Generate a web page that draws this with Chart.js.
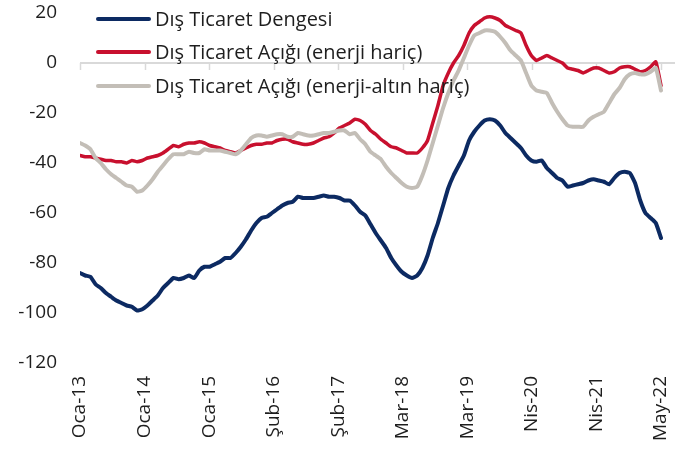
<!DOCTYPE html>
<html>
<head>
<meta charset="utf-8">
<script src="https://cdn.jsdelivr.net/npm/chart.js@4"></script>
<style>
  html, body { margin: 0; padding: 0; background: #fff; }
  #wrap { width: 688px; height: 454px; }
</style>
</head>
<body>
<div id="wrap"><canvas id="LineChart"></canvas></div>
<script>
// monthly, Oca-13 .. May-22
var monthNames = ['Oca', 'Şub', 'Mar', 'Nis', 'May', 'Haz', 'Tem', 'Ağu', 'Eyl', 'Eki', 'Kas', 'Ara'];
var tickLabels = ['Oca-13', 'Oca-14', 'Oca-15', 'Şub-16', 'Şub-17', 'Mar-18', 'Mar-19', 'Nis-20', 'Nis-21', 'May-22'];

var disTicaretDengesi = [
  -84, -85, -85.5, -88.5, -90, -92, -93.5, -95, -96, -97, -97.5, -99,
  -98.5, -97, -95, -93, -90, -88, -86, -86.5, -86, -85, -86, -83,
  -81.5, -81.5, -80.5, -79.5, -78, -78, -76, -73.5, -70.5, -67, -64, -62,
  -61.5, -60, -58.5, -57, -56, -55.5, -53.5, -54, -54, -54, -53.5, -53,
  -53.5, -53.5, -54, -55, -55, -57, -59.5, -61, -64.5, -68, -71, -74,
  -78, -81, -83.5, -85, -86, -85, -82, -77, -70, -64, -57, -50,
  -45, -41, -37, -31, -27.5, -25, -23, -22.5, -23, -25, -28, -30,
  -32, -34, -37, -39, -39.5, -39, -42, -44, -46, -47, -49.5, -49,
  -48.5, -48, -47, -46.5, -47, -47.5, -48.5, -46, -44, -43.5, -44, -48,
  -55, -60, -62, -64, -70
];
var enerjiHaric = [
  -37, -37.5, -37.5, -38, -38.5, -39, -39, -39.5, -39.5, -40, -39, -39.5,
  -39, -38, -37.5, -37, -36, -34.5, -33, -33.5, -32.5, -32, -32, -31.5,
  -32, -33, -33.5, -34, -35, -35.5, -36, -35, -34, -33, -32.5, -32.5,
  -32, -32, -31, -30.5, -30.5, -31.5, -32, -32.5, -32.5, -32, -31, -30,
  -29.5, -28, -26, -25, -24, -22.5, -23, -24.5, -27, -28.5, -30.5, -32,
  -33.5, -34, -35, -36, -36, -36, -34, -31, -24, -17, -9, -4,
  0, 3, 7, 12, 15, 16.5, 18, 18.5, 18, 17, 15, 14,
  13, 12, 7, 3, 1, 2, 3, 2, 1, 0, -2, -2.5,
  -3, -4, -3, -2, -2, -3, -4, -3.5, -2, -1.5, -1.5, -2.5,
  -3.5, -3, -1.5, 0.5, -9
];
var enerjiAltinHaric = [
  -32, -33, -34.5, -38, -40, -42.5, -44.5, -46, -47.5, -49, -49.5, -51.5,
  -51, -49, -46.5, -43.5, -41, -38.5, -36.5, -36.5, -36.5, -35.5, -36, -36,
  -34.5, -35, -35, -35, -35.5, -36, -36.5, -35, -32.5, -30, -29, -29,
  -29.5, -29, -28.5, -28.5, -29.5, -29.5, -28, -28.5, -29, -29, -28.5, -28,
  -28, -27.5, -27, -27, -28.5, -28, -30.5, -32.5, -35.5, -37, -38.5, -41.5,
  -44, -46, -48, -49.5, -50, -49.5, -45, -39, -32, -25, -18, -12,
  -7, -3, 2, 7, 11, 12, 13, 13, 12.5, 10.5, 8, 5,
  3, 1, -4, -9, -11, -11.5, -12, -16, -19.5, -22.5, -25, -25.5,
  -25.5, -25.5, -23, -21.5, -20.5, -19.5, -16, -12.5, -10, -6.5, -4.5, -4,
  -4.5, -4.5, -3.5, -2, -11
];

var months = disTicaretDengesi.map(function (v, i) {
  return monthNames[i % 12] + '-' + (13 + Math.floor(i / 12));
});
var lastIndex = months.length - 1;
var xMax = lastIndex + 2.7;

function toPoints(arr) {
  return arr.map(function (v, i) { return { x: i, y: v }; });
}

var fontFamily = '"Open Sans", "Noto Sans", sans-serif';
var axisFont = { family: fontFamily, size: 19 };
var legendSize = 20;

// zero line with tick marks (the category axis crosses at 0)
var zeroAxis = {
  id: 'zeroAxis',
  beforeDatasetsDraw: function (chart) {
    var c = chart.ctx, xs = chart.scales.x, ys = chart.scales.y;
    var y0 = Math.round(ys.getPixelForValue(0));
    c.save();
    c.strokeStyle = '#d9d9d9';
    c.lineWidth = 2;
    c.beginPath();
    c.moveTo(chart.chartArea.left, y0);
    c.lineTo(chart.chartArea.right, y0);
    c.stroke();
    c.lineWidth = 1.5;
    xs.ticks.forEach(function (t) {
      var px = Math.round(xs.getPixelForValue(t.value)) + 0.5;
      c.beginPath();
      c.moveTo(px, y0);
      c.lineTo(px, y0 + 7);
      c.stroke();
    });
    c.restore();
  }
};

var inlineLegend = {
  id: 'inlineLegend',
  afterDatasetsDraw: function (chart) {
    var c = chart.ctx;
    var rows = [19, 52, 86];
    c.save();
    c.font = legendSize + 'px ' + fontFamily;
    c.textBaseline = 'middle';
    c.fillStyle = '#1e1e1e';
    chart.data.datasets.forEach(function (ds, i) {
      c.strokeStyle = ds.borderColor;
      c.lineWidth = 4;
      c.lineCap = 'round';
      c.beginPath();
      c.moveTo(98, rows[i]);
      c.lineTo(149, rows[i]);
      c.stroke();
      c.fillText(ds.label, 155, rows[i] + 1);
    });
    c.restore();
  }
};

var ctx = document.getElementById('LineChart').getContext('2d');
var myChart = new Chart(ctx, {
  type: 'line',
  data: {
    datasets: [{
      label: 'Dış Ticaret Dengesi',
      data: toPoints(disTicaretDengesi),
      borderColor: '#0c2a62',
      borderWidth: 4,
      order: 3
    }, {
      label: 'Dış Ticaret Açığı (enerji hariç)',
      data: toPoints(enerjiHaric),
      borderColor: '#c8102e',
      borderWidth: 3.5,
      order: 2
    }, {
      label: 'Dış Ticaret Açığı (enerji-altın hariç)',
      data: toPoints(enerjiAltinHaric),
      borderColor: '#c3beb7',
      borderWidth: 4,
      order: 1
    }]
  },
  options: {
    responsive: true,
    maintainAspectRatio: false,
    animation: false,
    elements: {
      point: { radius: 0 },
      line: { tension: 0.15, borderJoinStyle: 'round', borderCapStyle: 'round' }
    },
    layout: { padding: { top: 13, right: 13, left: 0, bottom: 0 } },
    plugins: {
      legend: { display: false },
      tooltip: { enabled: false }
    },
    scales: {
      x: {
        type: 'linear',
        min: 0,
        max: xMax,
        position: 'bottom',
        grid: { display: false, drawTicks: false },
        border: { display: false },
        afterBuildTicks: function (scale) {
          scale.ticks = tickLabels.map(function (l, k) {
            return { value: k * lastIndex / (tickLabels.length - 1) };
          });
        },
        afterFit: function (s) {
          s.height = 91;
          s.paddingLeft = 0;
          s.paddingRight = 0;
        },
        ticks: {
          autoSkip: false,
          minRotation: 90,
          maxRotation: 90,
          padding: 13,
          color: '#1e1e1e',
          font: axisFont,
          callback: function (v, idx) { return tickLabels[idx]; }
        }
      },
      y: {
        min: -120,
        max: 20,
        grid: { display: false, drawTicks: false },
        border: { display: false },
        afterFit: function (s) {
          s.width = 80;
          s.paddingTop = 0;
          s.paddingBottom = 0;
        },
        ticks: {
          stepSize: 20,
          padding: 23,
          color: '#1e1e1e',
          font: axisFont
        }
      }
    }
  },
  plugins: [zeroAxis, inlineLegend]
});
</script>
</body>
</html>
